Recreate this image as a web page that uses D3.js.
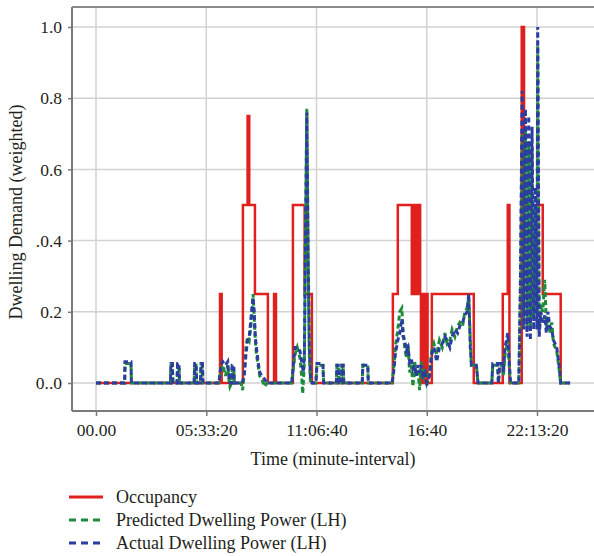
<!DOCTYPE html>
<html lang="en">
<head>
<meta charset="UTF-8">
<title>Dwelling Demand</title>
<script src="https://cdn.jsdelivr.net/npm/d3@7"></script>
<style>
  body { margin: 0; background: #fff; }
  text { font-family: "Liberation Serif", "DejaVu Serif", serif; fill: #231f20; }
</style>
</head>
<body>
<svg id="chart" width="594" height="556"></svg>
<script>
// time in seconds of the day, value weighted
var xTicks = [0, 20000, 40000, 60000, 80000];
var xTickLabels = ["00.00", "05:33:20", "11:06:40", "16:40", "22:13:20"];
var yTicks = [0, 0.2, 0.4, 0.6, 0.8, 1.0];
var yTickLabels = ["0..0", "0.2", ".0.4", "0.6", "0.8", "1.0"];

var occupancy = [
  [0,0],[22500,0.25],[22800,0],
  [26650,0.5],[27500,0.75],[27800,0.5],[28830,0.25],[31180,0],
  [32300,0.25],[32650,0],
  [35720,0.5],[37850,0.25],[39160,0],
  [53850,0.25],[54750,0.5],
  [57290,0.25],[57450,0.5],[57600,0.25],[57750,0.5],[57900,0.25],[58050,0.5],
  [58200,0.25],[58350,0.5],[58500,0.25],[58650,0.5],[58800,0.25],
  [58950,0],[59100,0.25],[59250,0],[59400,0.25],[59550,0],[59700,0.25],
  [59850,0],[60000,0.25],[60150,0],
  [60920,0.25],[68530,0],
  [73790,0.25],[74700,0.5],[75000,0],
  [77230,1.0],[77650,0.5],[81040,0.25],[84300,0],[86000,0]
];

var actual = [
  [0,0],[5200,0],[5260,0.06],[6350,0.06],[6420,0],
  [13500,0],[13600,0.055],[13850,0.055],[13950,0],
  [14700,0],[14800,0.055],[15050,0.055],[15150,0],
  [17800,0],[17900,0.055],[18150,0.055],[18250,0],
  [18950,0],[19050,0.055],[19300,0.055],[19400,0],
  [22300,0],[22500,0.03],[22700,0.05],[23000,0.06],[23500,0.05],[23900,0.06],
  [24100,0.02],[24300,0],[24600,0],[24700,0.05],[25000,0.05],[25100,0],
  [26500,0],[26900,0.02],[27200,0.08],[27500,0.12],[27800,0.13],[28100,0.18],
  [28400,0.23],[28500,0.24],[28700,0.2],[28900,0.13],[29100,0.1],[29400,0.06],
  [29700,0.03],[30100,0.02],[30600,0.01],[31000,0],
  [35500,0],[35800,0.05],[36100,0.1],[36500,0.1],[37000,0.09],[37300,0.06],
  [37600,0.03],[37800,0.08],[38000,0.4],[38250,0.76],[38500,0.35],[38700,0.1],
  [38900,0.02],[39200,0],
  [39900,0],[40070,0.055],[41160,0.055],[41300,0],
  [43600,0],[43700,0.05],[43950,0.05],[44050,0],
  [44500,0],[44600,0.05],[44850,0.05],[44950,0],
  [48300,0],[48400,0.05],[49300,0.05],[49400,0],
  [53700,0],[54000,0.03],[54300,0.08],[54750,0.12],[55100,0.14],[55480,0.18],
  [55700,0.13],[56000,0.12],[56300,0.09],[56600,0.1],[56900,0.06],[57200,0.07],
  [57500,0.04],[57800,0.05],[58100,0.02],[58400,0.05],[58700,0.03],[59000,0.05],
  [59300,0.02],[59700,0.03],[60000,0],[60500,0.02],[60900,0.08],[61300,0.1],
  [61800,0.06],[62300,0.1],[62800,0.11],[63300,0.13],[63700,0.12],[64200,0.1],
  [64600,0.13],[65100,0.15],[65600,0.14],[66000,0.16],[66500,0.17],[66900,0.19],
  [67300,0.2],[67620,0.25],[67900,0.1],[68100,0.05],[69000,0.05],[69300,0],
  [71800,0],[71980,0.055],[72880,0.055],[73000,0],[73240,0.055],[73790,0.055],
  [73900,0.03],[74200,0.1],[74700,0.14],[75000,0.05],[75200,0],
  [76700,0],[77000,0.3],[77300,0.82],[77600,0.15],[77900,0.77],[78200,0.13],
  [78500,0.75],[78800,0.12],[79100,0.72],[79400,0.15],[79700,0.55],[80000,0.15],
  [80130,1.0],[80400,0.13],[80700,0.2],[81040,0.17],[81400,0.19],[81700,0.14],
  [82000,0.2],[82300,0.16],[82670,0.15],[83000,0.12],[83580,0.1],[84000,0.05],
  [84300,0],[86000,0]
];

var predicted = [
  [0,0],[5200,0],[5260,0.055],[6350,0.055],[6420,0],
  [13500,0],[13600,0.05],[13850,0.05],[13950,0],
  [14700,0],[14800,0.05],[15050,0.05],[15150,0],
  [17800,0],[17900,0.05],[18150,0.05],[18250,0],
  [18950,0],[19050,0.05],[19300,0.05],[19400,0],
  [22300,0],[22500,0.02],[22700,0.04],[23000,0.05],[23500,0.02],[23900,0.05],
  [24100,0.01],[24300,-0.01],[24600,0],[24700,0.04],[25000,0.04],[25100,0],
  [26300,0],[26600,-0.02],[26900,0.03],[27200,0.1],[27500,0.13],[27800,0.12],
  [28100,0.16],[28400,0.22],[28500,0.25],[28700,0.18],[28900,0.12],[29100,0.08],
  [29400,0.05],[29700,0.02],[30100,0.01],[30600,-0.01],[31000,0],
  [35500,0],[35800,0.04],[36100,0.08],[36500,0.1],[37000,0.07],[37300,0.02],
  [37500,-0.03],[37800,0.06],[38000,0.45],[38250,0.77],[38500,0.3],[38700,0.08],
  [38900,0],[39200,0],
  [39900,0],[40070,0.05],[41160,0.05],[41300,0],
  [43600,0],[43700,0.05],[43950,0.05],[44050,0],
  [44500,0],[44600,0.05],[44850,0.05],[44950,0],
  [48300,0],[48400,0.05],[49300,0.05],[49400,0],
  [53700,0],[54000,0.04],[54300,0.1],[54750,0.15],[55100,0.2],[55480,0.21],
  [55700,0.15],[56000,0.1],[56300,0.07],[56600,0.11],[56900,0.03],[57200,0.05],
  [57500,-0.01],[57800,0.06],[58100,0.03],[58400,0.04],[58700,-0.02],[59000,0.06],
  [59300,0.01],[59700,0.04],[60000,-0.01],[60500,0.03],[60900,0.09],[61300,0.11],
  [61800,0.08],[62300,0.12],[62800,0.1],[63300,0.14],[63700,0.11],[64200,0.12],
  [64600,0.15],[65100,0.13],[65600,0.16],[66000,0.17],[66500,0.16],[66900,0.2],
  [67300,0.21],[67620,0.24],[67900,0.12],[68100,0.05],[69000,0.05],[69300,0],
  [71800,0],[71980,0.05],[72880,0.05],[73000,0],[73240,0.05],[73790,0.05],
  [73900,0.02],[74200,0.08],[74700,0.12],[75000,0.04],[75200,0],
  [76700,0],[77000,0.25],[77300,0.7],[77600,0.2],[77900,0.72],[78200,0.15],
  [78500,0.68],[78800,0.16],[79100,0.66],[79400,0.18],[79700,0.5],[80000,0.2],
  [80130,0.95],[80400,0.15],[80700,0.22],[81040,0.2],[81400,0.29],[81700,0.16],
  [82000,0.18],[82300,0.14],[82670,0.17],[83000,0.11],[83580,0.09],[84000,0.04],
  [84300,0],[86000,0]
];

var seriesNames = ["Occupancy", "Predicted Dwelling Power (LH)", "Actual Dwelling Power (LH)"];
var seriesColors = ["#e0201f", "#1e8a3a", "#2b3d9f"];

(function() {
  var svg = d3.select("#chart");
  var left = 72, plotTop = 7, bottom = 411, right = 594;

  var x = d3.scaleLinear().domain([0, 80000]).range([96, 537]);
  var y = d3.scaleLinear().domain([0, 1]).range([383, 27]);

  // grid
  svg.append("g").selectAll("line").data(xTicks).enter().append("line")
    .attr("x1", function(d) { return x(d); }).attr("x2", function(d) { return x(d); })
    .attr("y1", plotTop).attr("y2", bottom)
    .attr("stroke", "#d2d2d2").attr("stroke-width", 1.5);
  svg.append("g").selectAll("line").data(yTicks).enter().append("line")
    .attr("x1", left).attr("x2", right)
    .attr("y1", function(d) { return y(d); }).attr("y2", function(d) { return y(d); })
    .attr("stroke", "#d2d2d2").attr("stroke-width", 1.5);

  // frame top
  svg.append("line").attr("x1", left).attr("x2", right).attr("y1", plotTop).attr("y2", plotTop)
    .attr("stroke", "#8a8a8a").attr("stroke-width", 2);

  // axes
  var xAxis = d3.axisBottom(x).tickValues(xTicks).tickSize(5).tickPadding(8)
    .tickFormat(function(d, i) { return xTickLabels[i]; });
  var gx = svg.append("g").attr("transform", "translate(0," + bottom + ")").call(xAxis);
  gx.select(".domain").attr("d", "M" + left + ",0H" + right).attr("stroke", "#7a7a7a").attr("stroke-width", 2);
  gx.selectAll(".tick line").attr("stroke", "#7a7a7a").attr("stroke-width", 1.5);
  gx.selectAll(".tick text").attr("font-size", 17.5).attr("font-family", "Liberation Serif").attr("fill", "#231f20");

  var yAxis = d3.axisLeft(y).tickValues(yTicks).tickSize(4).tickPadding(6)
    .tickFormat(function(d, i) { return yTickLabels[i]; });
  var gy = svg.append("g").attr("transform", "translate(" + left + ",0)").call(yAxis);
  gy.select(".domain").attr("d", "M0," + plotTop + "V" + bottom).attr("stroke", "#7a7a7a").attr("stroke-width", 2);
  gy.selectAll(".tick line").attr("stroke", "#7a7a7a").attr("stroke-width", 1.5);
  gy.selectAll(".tick text").attr("font-size", 17.5).attr("font-family", "Liberation Serif").attr("fill", "#231f20");

  // titles
  svg.append("text").attr("x", 333).attr("y", 465).attr("text-anchor", "middle")
    .attr("font-size", 18).text("Time (minute-interval)");
  svg.append("text").attr("transform", "translate(22,212) rotate(-90)").attr("text-anchor", "middle")
    .attr("font-size", 18).text("Dwelling Demand (weighted)");

  // series
  svg.append("clipPath").attr("id", "clip").append("rect")
    .attr("x", left).attr("y", plotTop).attr("width", right - left).attr("height", bottom - plotTop);
  var plot = svg.append("g").attr("clip-path", "url(#clip)");

  var stepLine = d3.line().x(function(d) { return x(d[0]); }).y(function(d) { return y(d[1]); })
    .curve(d3.curveStepAfter);
  var line = d3.line().x(function(d) { return x(d[0]); }).y(function(d) { return y(d[1]); });

  plot.append("path").datum(occupancy).attr("d", stepLine)
    .attr("fill", "none").attr("stroke", seriesColors[0]).attr("stroke-width", 2.5);
  plot.append("path").datum(predicted).attr("d", line)
    .attr("fill", "none").attr("stroke", seriesColors[1]).attr("stroke-width", 3)
    .attr("stroke-dasharray", "5,3");
  plot.append("path").datum(actual).attr("d", line)
    .attr("fill", "none").attr("stroke", seriesColors[2]).attr("stroke-width", 3)
    .attr("stroke-dasharray", "5,3");

  // legend
  var legend = svg.append("g").selectAll("g").data(seriesNames).enter().append("g")
    .attr("transform", function(d, i) { return "translate(69," + (497 + i * 23) + ")"; });
  legend.append("line").attr("x1", 0).attr("x2", 34).attr("y1", 0).attr("y2", 0)
    .attr("stroke", function(d, i) { return seriesColors[i]; }).attr("stroke-width", 3)
    .attr("stroke-dasharray", function(d, i) { return i === 0 ? null : "7,5"; });
  legend.append("text").attr("x", 47).attr("y", 6).attr("font-size", 18)
    .text(function(d) { return d; });
})();
</script>
</body>
</html>
